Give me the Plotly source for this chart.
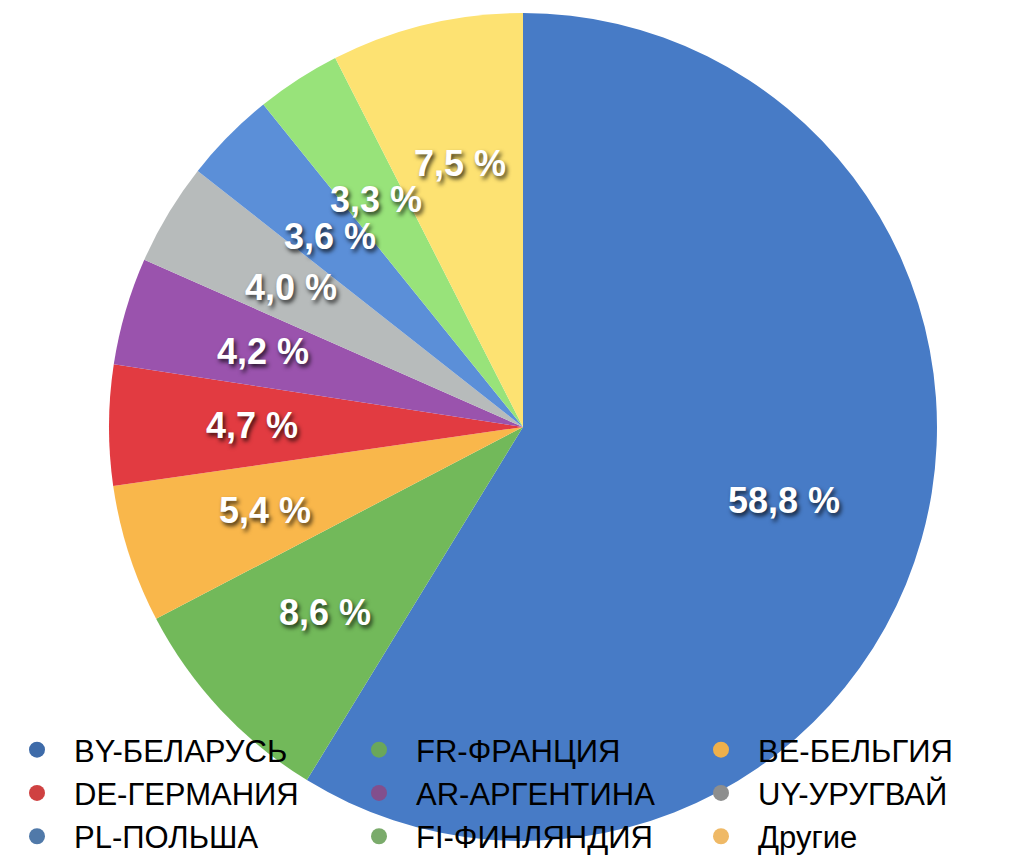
import math
import plotly.graph_objects as go

# ---- data ----
labels = ["BY-БЕЛАРУСЬ", "FR-ФРАНЦИЯ", "BE-БЕЛЬГИЯ", "DE-ГЕРМАНИЯ", "AR-АРГЕНТИНА",
          "UY-УРУГВАЙ", "PL-ПОЛЬША", "FI-ФИНЛЯНДИЯ", "Другие"]
values = [58.8, 8.6, 5.4, 4.7, 4.2, 4.0, 3.6, 3.3, 7.5]
slice_colors = ["#477bc6", "#72b95a", "#f9b74b", "#e23b41", "#9a53ad",
                "#b7bbbb", "#5b8fd8", "#98e37a", "#fde272"]
legend_colors = ["#3e6ba9", "#6aa75a", "#efb04b", "#cf4141", "#824f8d",
                 "#8d8e8e", "#5079a9", "#7aab6b", "#efb966"]

# ---- geometry of the pie (pixels -> paper fractions) ----
W, H = 1022, 863
cx, cy, R = 523, 427, 414
dom_x = [(cx - R) / W, (cx + R) / W]
dom_y = [(H - cy - R) / H, (H - cy + R) / H]
label_r = 0.655  # fraction of radius where percentage labels sit

fig = go.Figure()
fig.add_trace(go.Pie(
    labels=labels, values=values, sort=False, direction="clockwise", rotation=0,
    marker=dict(colors=slice_colors, line=dict(width=0)),
    textinfo="none", hoverinfo="label+percent", showlegend=False,
    domain=dict(x=dom_x, y=dom_y),
))

# legend entries (circle markers)
for lab, col in zip(labels, legend_colors):
    fig.add_trace(go.Scatter(
        x=[None], y=[None], mode="markers", name=lab,
        marker=dict(symbol="circle", size=16, color=col), showlegend=True,
    ))

# percentage labels at each slice's mid-angle (derived from the values)
total = sum(values)
cum = 0.0
annotations = []
for v in values:
    ang = math.radians((cum + v / 2) / total * 360)
    cum += v
    px = cx + label_r * R * math.sin(ang)
    py = cy - label_r * R * math.cos(ang)
    annotations.append(dict(
        x=px / W, y=(H - py) / H, xref="paper", yref="paper",
        text=f"{v:.1f}".replace(".", ",") + " %", showarrow=False,
        xanchor="center", yanchor="middle",
        font=dict(family="Liberation Sans, Arial, sans-serif", size=36,
                  color="white", weight="bold",
                  shadow="2px 3px 4px rgba(0,0,0,0.75)"),
    ))

fig.update_layout(
    width=W, height=H,
    margin=dict(l=0, r=0, t=0, b=0),
    paper_bgcolor="white", plot_bgcolor="rgba(0,0,0,0)",
    xaxis=dict(visible=False), yaxis=dict(visible=False),
    annotations=annotations,
    legend=dict(
        orientation="h", x=0.018, y=0.0, xanchor="left", yanchor="bottom",
        entrywidth=263, entrywidthmode="pixels", itemwidth=64,
        bgcolor="rgba(0,0,0,0)",
        font=dict(family="Liberation Sans, Arial, sans-serif", size=31, color="black"),
        itemsizing="trace",
    ),
    showlegend=True,
)

fig.write_html("out.html", config={"displayModeBar": False},
               post_script="document.body.style.margin='0';")
